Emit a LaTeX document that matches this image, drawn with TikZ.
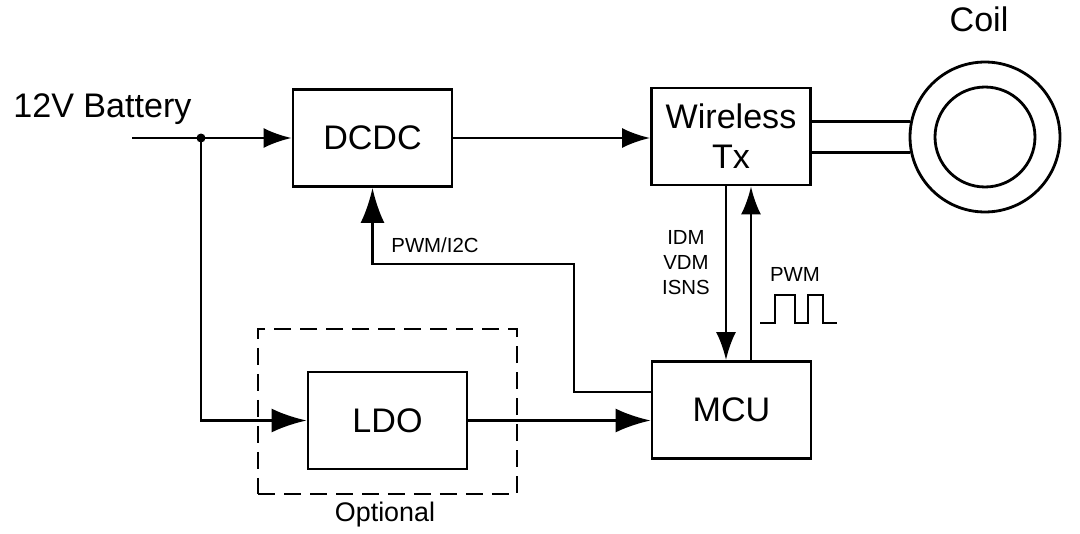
\documentclass[tikz,border=0pt]{standalone}
\usepackage{fontspec}
\setmainfont{Liberation Sans}
\usetikzlibrary{arrows.meta,positioning,calc}

\begin{document}
\begin{tikzpicture}[x=0.02cm,y=-0.02cm,line width=1.6pt,
  big/.style={font=\fontsize{19.4pt}{22.8pt}\selectfont},
  sml/.style={font=\fontsize{11.6pt}{14.2pt}\selectfont,align=center},
  blk/.style={draw,big,align=center,inner sep=0pt,minimum width=3.18cm,minimum height=1.94cm},
  ring/.style={draw,circle,inner sep=0pt},
  optbox/.style={draw,dash pattern=on 0.34cm off 0.18cm,minimum width=5.18cm,minimum height=3.3cm},
  fat/.style={-{Latex[length=0.7cm,width=0.48cm]}},
  >={Latex[length=0.56cm,width=0.4cm]}]
  \useasboundingbox (0,0) rectangle (1080,534);
  % blocks
  \node[blk] (dcdc) at (372.5,138) {DCDC};
  \node[blk] (wtx) at (731,136.5) {Wireless\\Tx};
  \node[blk] (ldo) at (387.5,420.5) {LDO};
  \node[blk] (mcu) at (731.5,410) {MCU};
  \node[optbox] (opt) at (387.5,411.5) {};
  \node[font=\fontsize{15.3pt}{18pt}\selectfont] (optlbl) at (385,515) {Optional};
  % coil
  \node[ring,minimum size=3cm] (coil) at (985,137) {};
  \node[ring,minimum size=2cm] (core) at (coil) {};
  \node[big] (coillbl) at (979,19) {Coil};
  \draw (coil.168) -- (coil.168 -| wtx.east);
  \draw (coil.192) -- (coil.192 -| wtx.east);
  % supply
  \node[big,anchor=base west,inner sep=0pt] (batt) at (12,117) {12V Battery};
  \coordinate (vin) at (132,138);
  \coordinate (tap) at (201,138);
  \draw[->] (vin) -- (dcdc.west);
  \fill (tap) circle (0.09cm);
  \draw[fat] (tap) |- (ldo.west);
  \draw[->] (dcdc.east) -- (dcdc.east -| wtx.west);
  \draw[fat] (ldo.east) -- (ldo.east -| mcu.west);
  % control
  \coordinate (bend) at (574,264);
  \draw[fat] ([yshift=0.36cm]mcu.west) -| (bend) -| (dcdc.south);
  \node[sml] (ctl) at (435,245) {PWM/I2C};
  \draw[->] ([xshift=-0.1cm]wtx.south) -- ([xshift=-0.1cm]wtx.south |- mcu.north);
  \draw[->] ([xshift=0.4cm]wtx.south |- mcu.north) -- ([xshift=0.4cm]wtx.south);
  \node[sml] (sense) at (686,263) {IDM\\VDM\\ISNS};
  \node[sml] (pwm) at (795,274) {PWM};
  \draw (760,323) -- (775,323) -- (775,295) -- (795,295) -- (795,323) -- (808,323)
    -- (808,295) -- (823,295) -- (823,323) -- (837,323);
\end{tikzpicture}
\end{document}
